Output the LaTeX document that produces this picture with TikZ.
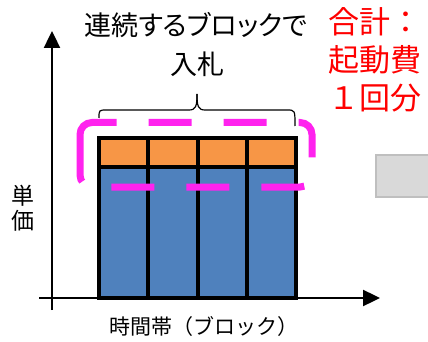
\documentclass[tikz,border=0pt]{standalone}
\usepackage{fontspec}
\usepackage{xcolor}
\usetikzlibrary{arrows.meta}
\newfontfamily\jp{Noto Sans CJK JP}
\newfontfamily\jpp[RawFeature=+palt]{Noto Sans CJK JP}
\definecolor{blockblue}{HTML}{4F81BD}
\definecolor{blockorange}{HTML}{F79646}
\definecolor{pinkline}{HTML}{FF22EE}
\definecolor{boxgray}{HTML}{D9D9D9}
\definecolor{boxedge}{HTML}{BFBFBF}
\tikzset{
  axisline/.style={line width=2.4pt, -{Triangle[length=17pt,width=16pt]}},
  blockline/.style={line width=3.3pt},
  startup/.style={draw=pinkline, line width=7pt,
    dash pattern=on 58.85pt off 32pt on 43pt off 32pt on 43pt off 32pt on 43pt off 32pt on 43pt off 32pt on 43pt off 32pt on 43pt off 31pt on 32.55pt},
  label/.style={inner sep=0pt, align=center}
}
\begin{document}
\begin{tikzpicture}[x=1pt, y=-1pt]
            \useasboundingbox (0,0) rectangle (428,342);
            % blocks
            \fill[blockblue] (99,167) rectangle (296,298);
            \fill[blockorange] (99,138) rectangle (296,167);
            \draw[blockline] (99,138) rectangle (296,298);
            \draw[blockline] (99,167) -- (296,167);
            \draw[blockline] (148,138) -- (148,298);
            \draw[blockline] (198,138) -- (198,298);
            \draw[blockline] (247,138) -- (247,298);
            % axes
            \coordinate (xs) at (39,298);
            \coordinate (xe) at (380,298);
            \coordinate (ys) at (52,310);
            \coordinate (ye) at (52,31);
            \draw[axisline] (xs) -- (xe);
            \draw[axisline] (ys) -- (ye);
            % start-up cost boundary
            \path[startup] (80,150) -- (80,134.5) arc[start angle=180, end angle=270, radius=12]
              -- (300,122.5) arc[start angle=270, end angle=360, radius=12]
              -- (312,175) arc[start angle=0, end angle=90, radius=12]
              -- (92,187) arc[start angle=90, end angle=180, radius=12] -- cycle;
            % brace
            \draw[line width=1.2pt] (99,118) .. controls (99,110) .. (107,110) -- (189,110) .. controls (196,110) and (197,106) .. (197,94);
            \draw[line width=1.2pt] (197,94) .. controls (197,106) and (198,110) .. (205,110) -- (287,110) .. controls (295,110) .. (295,126);
            % grey box
            \draw[fill=boxgray, draw=boxedge, line width=2pt] (376,155) rectangle (432,197);
            % texts
            \node[label, font=\jpp\fontsize{27}{32}\selectfont] (bid) at (196,25) {連続するブロックで};
            \node[label, font=\jpp\fontsize{27}{32}\selectfont] (bid2) at (197,64) {入札};
            \node[label, text=red, font=\jp\fontsize{31}{38}\selectfont] (cost) at (375,60) {合計：\\起動費\\１回分};
            \node[label, font=\jp\fontsize{23}{25}\selectfont] (price) at (23,208) {単\\価};
            \node[label, font=\jp\fontsize{21}{24}\selectfont] (time) at (204,327) {時間帯（ブロック）};
\end{tikzpicture}
\end{document}
